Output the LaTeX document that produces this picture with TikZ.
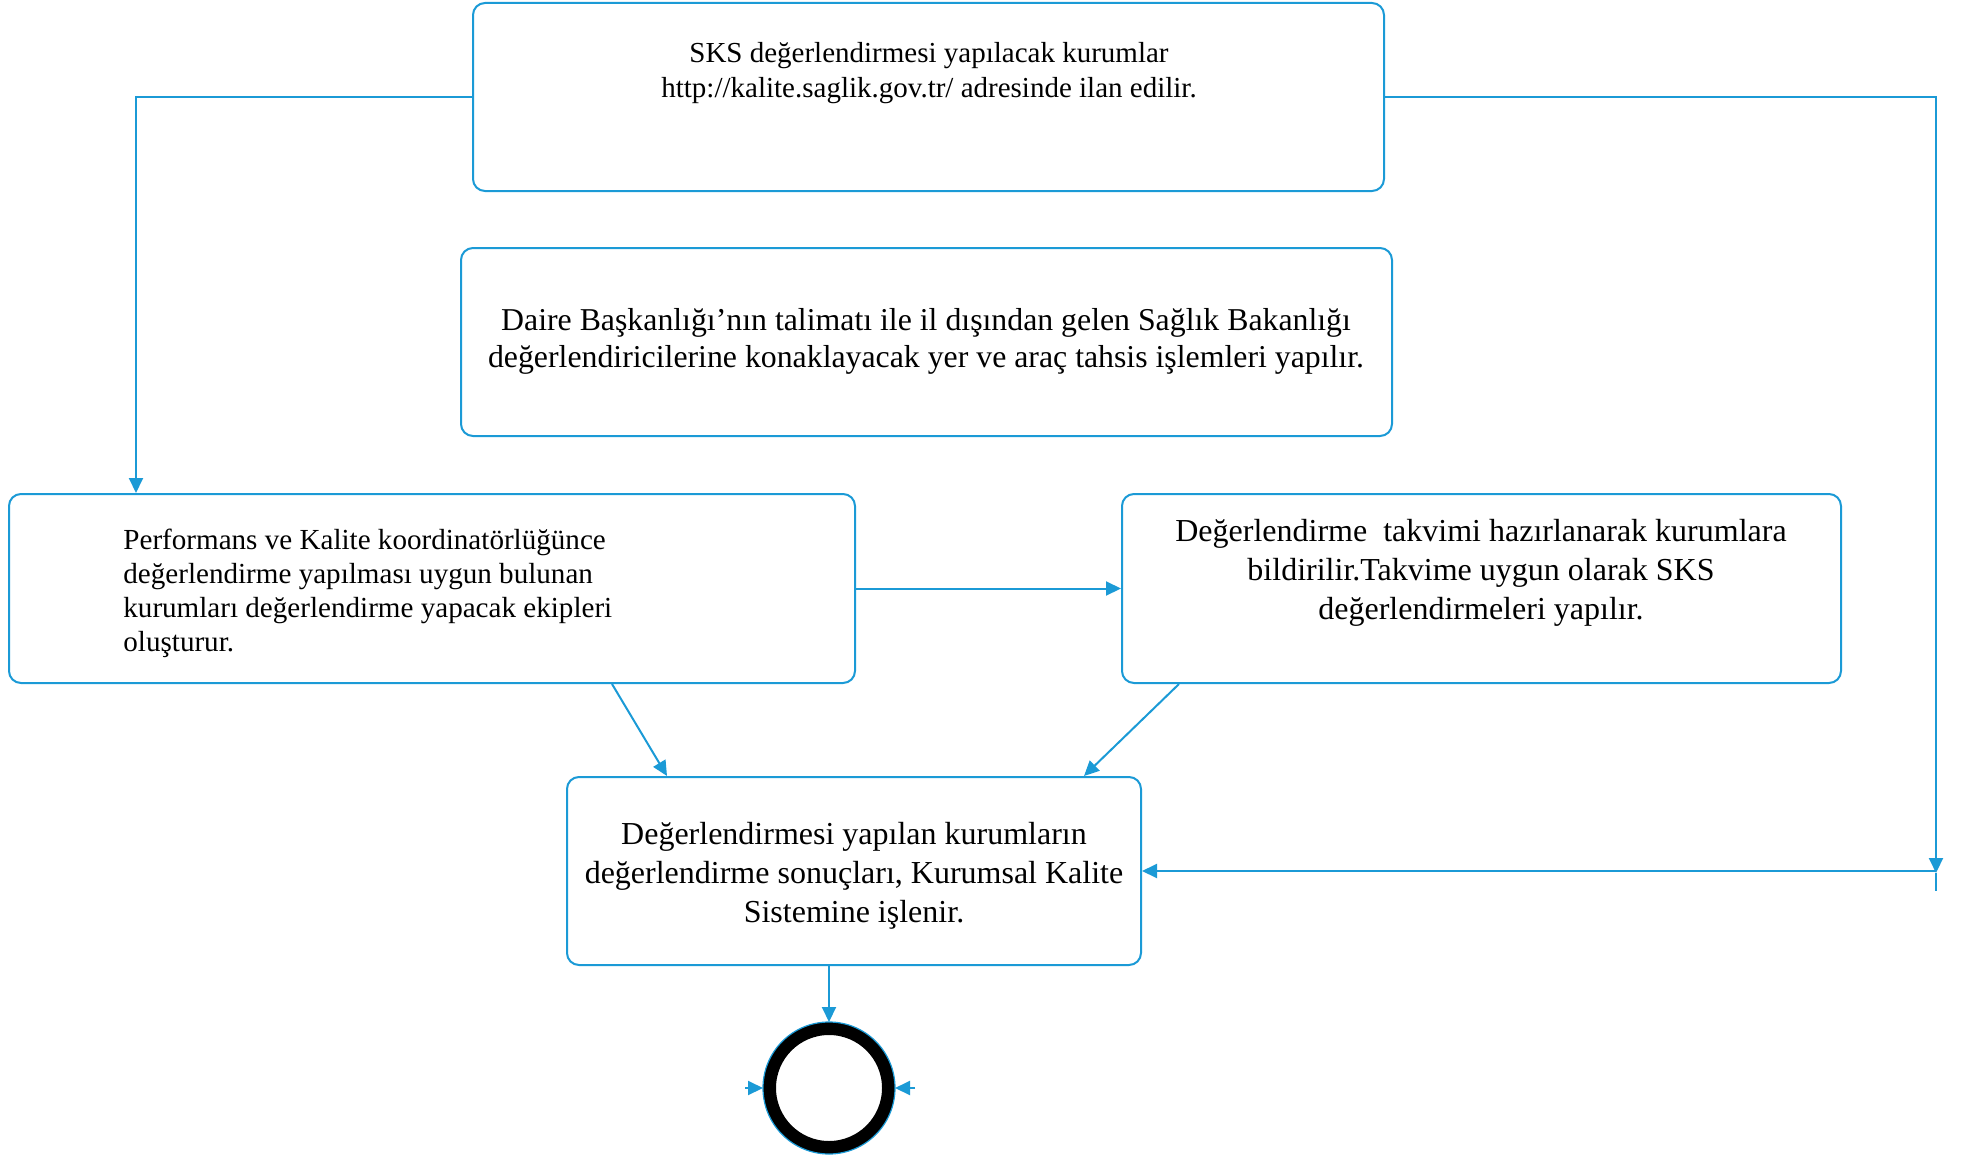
\documentclass[tikz,border=0pt]{standalone}
\usepackage{fontspec}
\setmainfont{Liberation Serif}
\usetikzlibrary{arrows.meta,fit}
\definecolor{lb}{HTML}{1B9AD6}
\begin{document}
\begin{tikzpicture}[x=0.5pt,y=-0.5pt,
  box/.style={draw=lb, line width=1pt, rounded corners=6pt, inner sep=0pt},
  conn/.style={draw=lb, line width=1pt, -{Triangle[length=7.5pt,width=7pt]}},
  plain/.style={draw=lb, line width=1pt},
  txt/.style={inner sep=0pt, align=center}]
\useasboundingbox (0,0) rectangle (1971,1156);
% boxes
\node[box, fit={(473,3) (1384,191)}] (b1) {};
\node[box, fit={(461,248) (1392,436)}] (b2) {};
\node[box, fit={(9,494) (855,683)}] (b3) {};
\node[box, fit={(1122,494) (1841,683)}] (b4) {};
\node[box, fit={(567,777) (1141,965)}] (b5) {};
% texts
\node[txt, font=\fontsize{14.5}{17.5}\selectfont] (t1) at (929,73)
  {SKS değerlendirmesi yapılacak kurumlar\\http://kalite.saglik.gov.tr/ adresinde ilan edilir.};
\node[txt, font=\fontsize{15.9}{18.5}\selectfont] (t2) at (926,341)
  {Daire Başkanlığı’nın talimatı ile il dışından gelen Sağlık Bakanlığı\\değerlendiricilerine konaklayacak yer ve araç tahsis işlemleri yapılır.};
\node[txt, align=left, anchor=west, font=\fontsize{14.55}{17}\selectfont] (t3) at (123,593)
  {Performans ve Kalite koordinatörlüğünce\\değerlendirme yapılması uygun bulunan\\kurumları değerlendirme yapacak ekipleri\\oluşturur.};
\node[txt, font=\fontsize{16}{19.5}\selectfont] (t4) at (1481,573)
  {Değerlendirme\ \ takvimi hazırlanarak kurumlara\\bildirilir.Takvime uygun olarak SKS\\değerlendirmeleri yapılır.};
\node[txt, font=\fontsize{16}{19.5}\selectfont] (t5) at (854,876)
  {Değerlendirmesi yapılan kurumların\\değerlendirme sonuçları, Kurumsal Kalite\\Sistemine işlenir.};
% end node
\node[circle, draw=black, line width=6.5pt, minimum size=59.5pt, inner sep=0pt, fill=white] (end) at (829,1088) {};
\draw[lb, line width=0.6pt] (end.center) circle[radius=33pt];
% helper coordinates
\coordinate (cL) at (136,0);
\coordinate (cR) at (1936,873);
\coordinate (cRend) at (1936,891);
\coordinate (cRh) at (1936,871);
\coordinate (p1) at (612,0);
\coordinate (p2) at (667,0);
\coordinate (p3) at (1179,0);
\coordinate (p4) at (1084,0);
\coordinate (sl) at (745,1088);
\coordinate (sr) at (915,1088);
% connectors
\draw[conn] (b1.west) -| (cL |- b3.north);
\draw[conn] (b1.east) -| (cR);
\draw[plain] (cR) -- (cRend);
\draw[conn] (cRh) -- (b5.east);
\draw[conn] (b3.east) -- (b4.west);
\draw[conn] (b3.south -| p1) -- (b5.north -| p2);
\draw[conn] (b4.south -| p3) -- (b5.north -| p4);
\draw[conn] (b5.south -| end.north) -- (end.north);
\draw[conn] (sl) -- (end.west);
\draw[conn] (sr) -- (end.east);
\end{tikzpicture}
\end{document}
